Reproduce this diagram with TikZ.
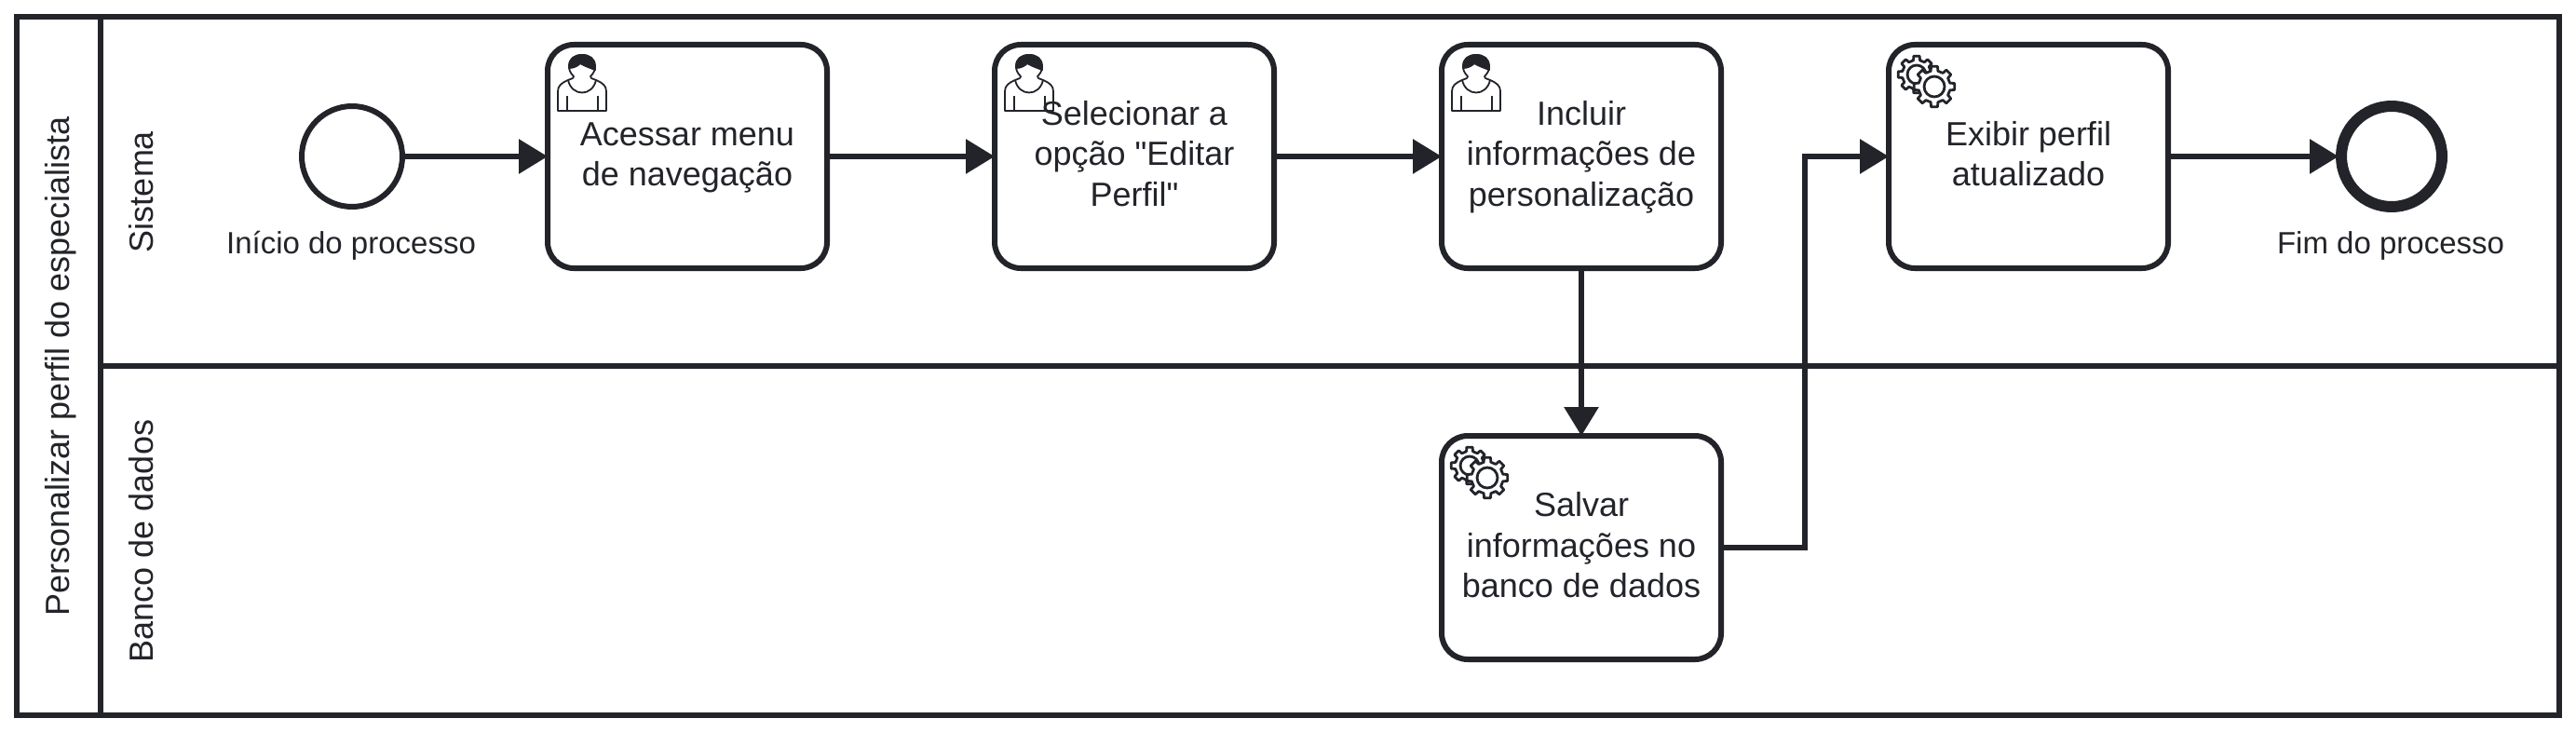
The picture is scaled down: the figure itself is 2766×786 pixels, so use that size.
\documentclass[tikz,border=0pt]{standalone}
\usepackage{fontspec}
\newfontfamily\plainsans{Liberation Sans}
\usetikzlibrary{arrows.meta}
\definecolor{ink}{HTML}{22242A}
\newcommand{\gearshape}[1]{%
  (-13:#1*0.78)
  \foreach \a in {0,45,...,315}{
    -- (\a-13:#1*0.78) -- (\a-9:#1) -- (\a+9:#1) -- (\a+13:#1*0.78)
  } -- cycle}
\newcommand{\tl}{\rule[-4pt]{0pt}{18pt}}
\tikzset{
  x=0.5pt,y=-0.5pt,
  every node/.style={text=ink,inner sep=0pt},
  bigtext/.style={font=\plainsans\fontsize{18}{21.6}\selectfont,align=center},
  smalltext/.style={font=\plainsans\fontsize{16.5}{19.8}\selectfont,align=center},
  taskbox/.style={draw=ink,line width=3pt,rounded corners=14pt,minimum width=150pt,minimum height=120pt},
  flow/.style={draw=ink,line width=3pt,shorten >=-1.5pt,-{Triangle[length=15.5pt,width=18pt]}},
  startev/.style={circle,draw=ink,fill=white,line width=3pt,minimum size=54pt},
  endev/.style={circle,draw=ink,fill=white,line width=6pt,minimum size=54pt},
  lane/.style={draw=ink,line width=3pt},
  icon/.style={draw=ink,line width=0.9pt,line join=round},
  pics/usericon/.style={code={
    \draw[icon] (11,71) -- (11,50) .. controls (11,44) and (15,41) .. (22,38)
      -- (27,36) -- (28,34) .. controls (24,30) and (23,27) .. (23,23)
      .. controls (23,15) and (29,11) .. (37,11) .. controls (45,11) and (51,15) .. (51,23)
      .. controls (51,27) and (50,30) .. (46,34) -- (47,36) -- (52,38)
      .. controls (59,41) and (63,44) .. (63,50) -- (63,71) -- cycle;
    \draw[icon,fill=ink] (23,25) .. controls (23,15) and (29,11) .. (37,11)
      .. controls (45,11) and (51,15) .. (51,27) .. controls (46,25) and (40,23) .. (35,20)
      .. controls (32,23) and (28,25) .. (23,25) -- cycle;
    \draw[icon] (22,38) .. controls (26,56) and (48,56) .. (52,38);
    \draw[icon] (21,55) -- (21,71) (54,55) -- (54,71);
  }},
  pics/gearicon/.style={code={
    \begin{scope}[shift={(30,32)}]
      \draw[icon,line width=1.4pt,fill=white] \gearshape{20};
      \draw[icon,line width=1.4pt] (0,0) circle[radius=10];
    \end{scope}
    \begin{scope}[shift={(49,45)}]
      \draw[icon,line width=1.4pt,fill=white] \gearshape{22};
      \draw[icon,line width=1.4pt] (0,0) circle[radius=11];
    \end{scope}
  }}
}
\begin{document}
\begin{tikzpicture}
\useasboundingbox (0,0) rectangle (2766,786);
\fill[white] (0,0) rectangle (2766,786);
% pool and lanes
\draw[lane] (18,18) rectangle (2748,768);
\draw[lane] (108,18) -- (108,768);
\draw[lane] (108,393) -- (2748,393);
\node[bigtext,rotate=90,anchor=base] (pool) at (74,393) {Personalizar perfil do especialista};
\node[bigtext,rotate=90,anchor=base] (lane1) at (164,206) {Sistema};
\node[bigtext,rotate=90,anchor=base] (lane2) at (164,581) {Banco de dados};
% events
\node[startev] (start) at (378,168) {};
\node[endev] (stop) at (2568,168) {};
\node[smalltext,anchor=base] (startlabel) at (377,272) {Início do processo};
\node[smalltext,anchor=base] (stoplabel) at (2567,272) {Fim do processo};
% tasks
\node[taskbox,bigtext] (t1) at (738,168) {\tl Acessar menu\\de navegação\tl};
\node[taskbox,bigtext] (t2) at (1218,168) {\tl Selecionar a\\opção "Editar\\Perfil"\tl};
\node[taskbox,bigtext] (t3) at (1698,168) {\tl Incluir\\informações de\\personalização\tl};
\node[taskbox,bigtext] (t4) at (2178,168) {\tl Exibir perfil\\atualizado\tl};
\node[taskbox,bigtext] (t5) at (1698,588) {\tl Salvar\\informações no\\banco de dados\tl};
% icons
\pic at (588,48) {usericon};
\pic at (1068,48) {usericon};
\pic at (1548,48) {usericon};
\pic at (2028,48) {gearicon};
\pic at (1548,468) {gearicon};
% flows
\coordinate (bend) at (1938,588);
\draw[flow] (start) -- (t1);
\draw[flow] (t1) -- (t2);
\draw[flow] (t2) -- (t3);
\draw[flow] (t3) -- (t5);
\draw[flow] (t5.east) -- (bend) |- (t4.west);
\draw[flow] (t4) -- (stop);
\end{tikzpicture}
\end{document}
